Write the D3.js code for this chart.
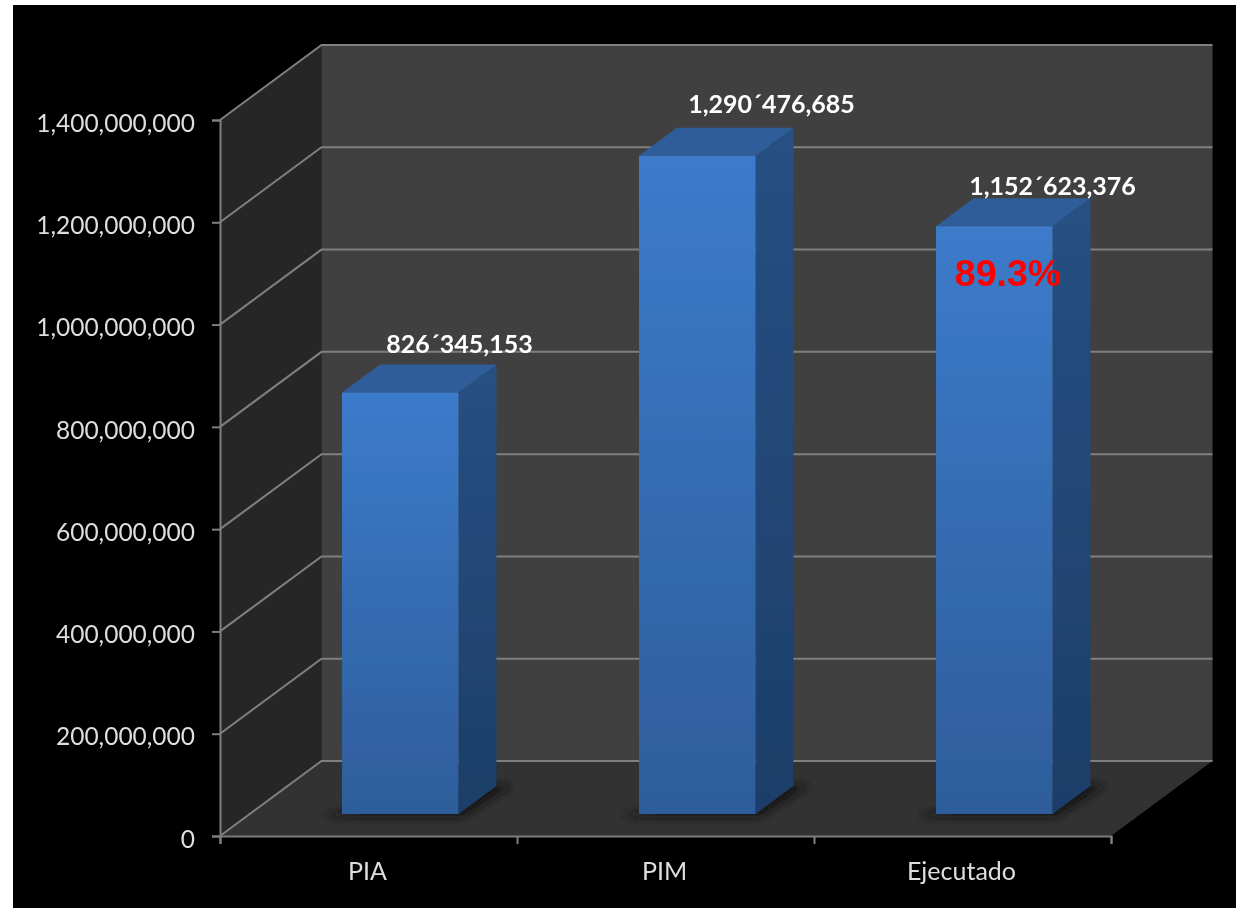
<!DOCTYPE html>
<html>
<head>
<meta charset="utf-8">
<script src="https://cdn.jsdelivr.net/npm/d3@7/dist/d3.min.js"></script>
<style>
html,body{margin:0;padding:0;background:#fff;overflow:hidden}
svg{display:block}
text{font-family:Lato,"Open Sans",sans-serif}
</style>
</head>
<body>
<svg id="c" width="1236" height="908"></svg>
<script>
const categories = ["PIA", "PIM", "Ejecutado"];
const values = [826345153, 1290476685, 1152623376];
const valueLabels = ["826´345,153", "1,290´476,685", "1,152´623,376"];
const yTicks = [0, 200000000, 400000000, 600000000, 800000000, 1000000000, 1200000000, 1400000000];
const note = "89.3%";

const svg = d3.select("#c");
const W = 1236, H = 908;
const x0 = 220, x1 = 1111, yBase = 836, yTop = 120;
const depthX = 101.5, depthY = -75;

const x = d3.scaleBand().domain(categories).range([x0, x1]).paddingInner(0).paddingOuter(0);
const y = d3.scaleLinear().domain([0, 1400000000]).range([yBase, yTop]);
// the bars' tops sit a touch lower than the walls' scale, as in the original
const yBar = d3.scaleLinear().domain([0, 1400000000]).range([yBase, yTop + 2]);
// depth 0 = front plane, 1 = back wall
const dx = d3.scaleLinear().domain([0, 1]).range([0, depthX]);
const dy = d3.scaleLinear().domain([0, 1]).range([0, depthY]);
const P = (px, py, d) => [px + dx(d), py + dy(d)];
const poly = pts => pts.map(p => p.join(",")).join(" ");

const defs = svg.append("defs");
function grad(id, top, bottom) {
  const g = defs.append("linearGradient").attr("id", id).attr("x1", 0).attr("y1", 0).attr("x2", 0).attr("y2", 1);
  g.append("stop").attr("offset", "0%").attr("stop-color", top);
  g.append("stop").attr("offset", "100%").attr("stop-color", bottom);
}
grad("front", "#3c7bcb", "#2e5d9b");
grad("side", "#265083", "#1d3e69");
defs.append("filter").attr("id", "soft").attr("x", "-30%").attr("y", "-100%").attr("width", "160%").attr("height", "300%")
  .append("feGaussianBlur").attr("stdDeviation", 3.5);
defs.append("filter").attr("id", "tb").append("feGaussianBlur").attr("stdDeviation", 0.5);

svg.append("rect").attr("x", 13).attr("y", 5).attr("width", W - 13).attr("height", H - 5).attr("fill", "#000");

const root = svg.append("g").attr("filter", "url(#tb)");

// walls and floor
root.append("polygon").attr("fill", "#282828")
  .attr("points", poly([P(x0, yTop, 0), P(x0, yTop, 1), P(x0, yBase, 1), P(x0, yBase, 0)]));
root.append("polygon").attr("fill", "#404040")
  .attr("points", poly([P(x0, yTop, 1), P(x1, yTop, 1), P(x1, yBase, 1), P(x0, yBase, 1)]));
root.append("polygon").attr("fill", "#303030")
  .attr("points", poly([P(x0, yBase, 0), P(x1, yBase, 0), P(x1, yBase, 1), P(x0, yBase, 1)]));

// gridlines
const lineCol = "#7f7f7f";
yTicks.forEach(t => {
  const a = P(x0, y(t), 0), b = P(x0, y(t), 1), c = P(x1, y(t), 1);
  root.append("polyline").attr("fill", "none").attr("stroke", lineCol).attr("stroke-width", 2)
    .attr("points", poly([a, b, c]));
});

// axes through d3
const yAxis = d3.axisLeft(y).tickValues(yTicks).tickFormat(d3.format(",")).tickSize(8).tickPadding(17);
const gy = root.append("g").attr("transform", `translate(${x0},0)`).call(yAxis);
const catEdges = categories.map(c => x(c)).concat([x1]);
const xEdge = d3.scaleLinear().domain([x0, x1]).range([x0, x1]);
const xAxis = d3.axisBottom(xEdge).tickValues(catEdges).tickFormat("").tickSize(8);
const gx = root.append("g").attr("transform", `translate(0,${yBase})`).call(xAxis);
[gy, gx].forEach(g => {
  g.selectAll("path").attr("stroke", lineCol).attr("stroke-width", 2);
  g.selectAll("line").attr("stroke", lineCol).attr("stroke-width", 2);
});
gy.selectAll("text").attr("fill", "#dedede").style("font-size", "24.5px").style("font-family", "Lato").attr("dy", "0.46em");

root.selectAll(".cat").data(categories).join("text").attr("class", "cat")
  .attr("x", d => x(d) + x.bandwidth() / 2 - 1)
  .attr("y", 880).attr("text-anchor", "middle")
  .attr("fill", "#dedede").style("font-size", "25px").text(d => d);

// bars
const barFrontDepth = 22 / 75, barBackDepth = 50 / 75;
const barWidth = 116.5, barInset = (x.bandwidth() - barWidth) / 2 + 2;
const bars = root.selectAll(".bar").data(categories.map((c, i) => ({c, v: values[i], label: valueLabels[i]})))
  .join("g").attr("class", "bar");

bars.append("polygon").attr("fill", "#161616").attr("filter", "url(#soft)")
  .attr("points", d => {
    const l = x(d.c) + barInset, r = l + barWidth;
    return poly([P(l - 16, y(0) + 2, barFrontDepth), P(r + 4, y(0) + 2, barFrontDepth), P(r + 14, y(0), barBackDepth), P(r - 20, y(0), barBackDepth)]);
  });
bars.append("polygon").attr("fill", "url(#side)")
  .attr("points", d => {
    const r = x(d.c) + barInset + barWidth;
    return poly([P(r, yBar(d.v), barFrontDepth), P(r, yBar(d.v), barBackDepth), P(r, y(0), barBackDepth), P(r, y(0), barFrontDepth)]);
  });
bars.append("polygon").attr("fill", "#2d5d99")
  .attr("points", d => {
    const l = x(d.c) + barInset, r = l + barWidth;
    return poly([P(l, yBar(d.v), barFrontDepth), P(l, yBar(d.v), barBackDepth), P(r, yBar(d.v), barBackDepth), P(r, yBar(d.v), barFrontDepth)]);
  });
bars.append("polygon").attr("fill", "url(#front)")
  .attr("points", d => {
    const l = x(d.c) + barInset, r = l + barWidth;
    return poly([P(l, yBar(d.v), barFrontDepth), P(r, yBar(d.v), barFrontDepth), P(r, y(0), barFrontDepth), P(l, y(0), barFrontDepth)]);
  });

// value labels (hand-placed text boxes in the original)
const labelShiftX = [91, 106, 90];
const labelShiftY = [-40, -44, -32];
bars.append("text")
  .attr("x", (d, i) => x(d.c) + x.bandwidth() / 2 + labelShiftX[i])
  .attr("y", (d, i) => yBar(d.v) + labelShiftY[i])
  .attr("dy", "-0.85em")
  .attr("text-anchor", "middle").attr("fill", "#fff")
  .style("font-size", "25px").style("font-weight", 700).text(d => d.label);

root.append("text").attr("x", 1008).attr("y", 286).attr("text-anchor", "middle")
  .attr("fill", "#ff0000").style("font-family", "'Liberation Sans',Arial,sans-serif")
  .style("font-weight", 700).style("font-size", "37.5px").text(note);
</script>
</body>
</html>
